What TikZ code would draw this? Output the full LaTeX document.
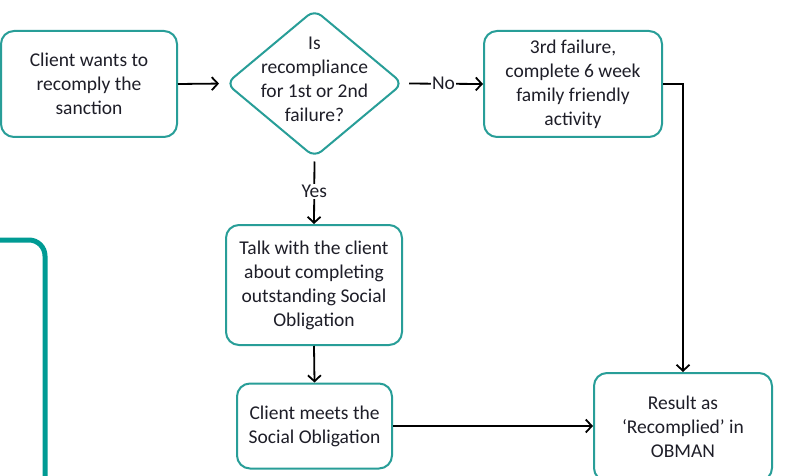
\documentclass[tikz,border=0pt]{standalone}
\usepackage{fontspec}
\setmainfont{Carlito}
\usetikzlibrary{shapes.geometric,arrows.meta,calc}
\definecolor{boxteal}{RGB}{40,158,152}
\definecolor{bigteal}{RGB}{0,155,148}
\definecolor{txtc}{RGB}{30,30,40}
\begin{document}
\begin{tikzpicture}[x=1pt,y=-1pt,
  every node/.style={font=\fontsize{19.5}{24}\selectfont, text=txtc},
  stepbox/.style={draw=boxteal, line width=2pt, rounded corners=13pt, fill=white, inner sep=0pt, align=center},
  decbox/.style={draw=boxteal, line width=2pt, diamond, rounded corners=9pt, inner sep=0pt, minimum width=177pt, minimum height=148pt},
  conn/.style={draw=black, line width=1.8pt, -{Straight Barb[length=6pt,width=13pt,line width=1.8pt]}},
  lbl/.style={fill=white, inner sep=1pt}
]
\clip (0,0) rectangle (787,476);
\useasboundingbox (0,0) rectangle (787,476);
\fill[white] (0,0) rectangle (787,476);

% partial large teal frame on the left
\draw[bigteal, line width=5pt, rounded corners=16pt] (-30,240) -- (45,240) -- (45,520);

\node[stepbox, minimum width=176pt, minimum height=106pt] (b1) at (89,84) {Client wants to\\recomply the\\sanction};
\node[decbox] (d) at (314.5,83.5) {};
\node[align=center, inner sep=0pt] (dt) at (314.5,79) {Is\\recompliance\\for 1st or 2nd\\failure?};
\node[stepbox, minimum width=178pt, minimum height=106pt] (b3) at (573,84) {3rd failure,\\complete 6 week\\family friendly\\activity};
\node[stepbox, minimum width=176pt, minimum height=120pt] (b2) at (314,285) {Talk with the client\\about completing\\outstanding Social\\Obligation};
\node[stepbox, minimum width=155pt, minimum height=85pt] (b4) at (314.5,426) {Client meets the\\Social Obligation};
\node[stepbox, minimum width=178pt, minimum height=108pt] (res) at (683,427) {Result as\\‘Recomplied’ in\\OBMAN};

\draw[conn, shorten >=6pt] (b1.east) -- (d.west);
\draw[conn, shorten <=5pt] (d.east) -- node[lbl, pos=0.5] (no) {No} (b3.west);
\draw[conn, shorten <=3pt] (d.south) -- node[lbl, pos=0.5] (yes) {Yes} (b2.north);
\draw[conn] (b2.south) -- (b4.north);
\draw[conn] (b4.east) -- (b4.east -| res.west);
\draw[conn] (b3.east) -| (res.north);
\end{tikzpicture}
\end{document}
